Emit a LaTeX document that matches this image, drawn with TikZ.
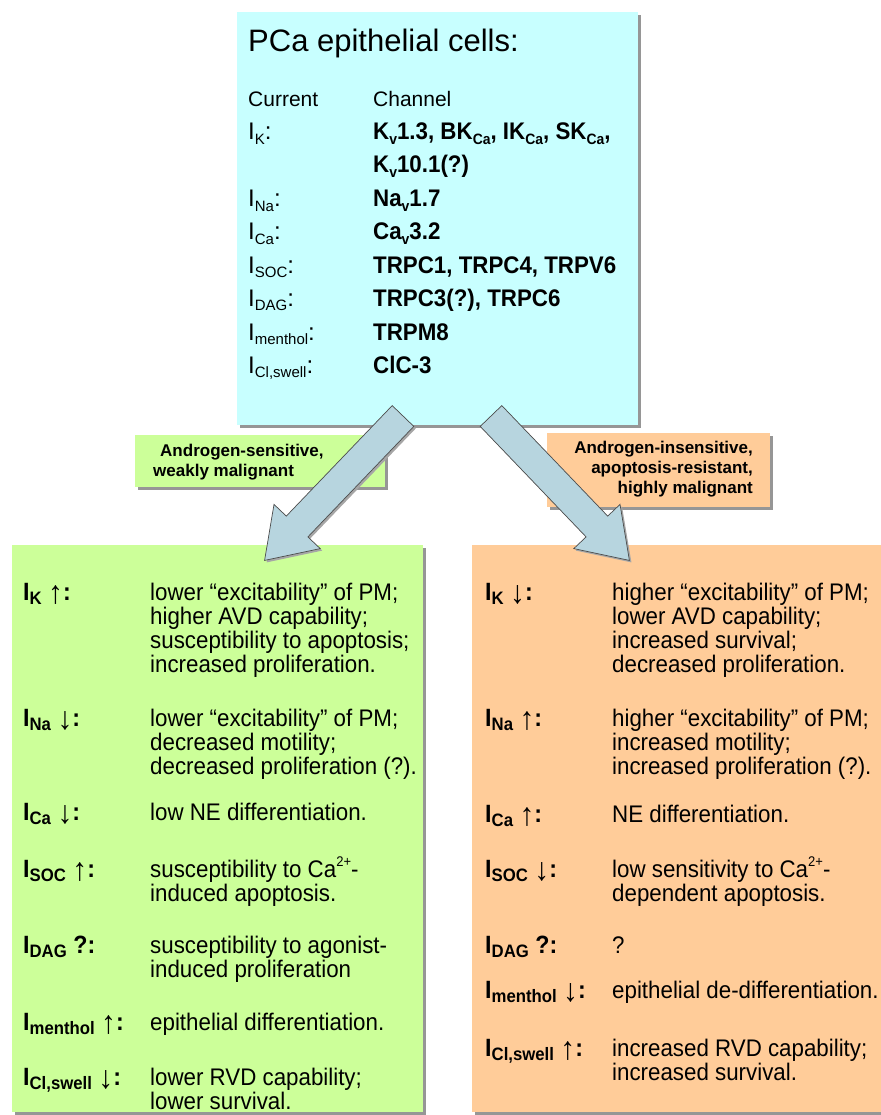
\documentclass[tikz,border=0pt]{standalone}
\usepackage{fontspec}
\setmainfont{Liberation Sans}
\newfontfamily\narrowfont[FakeStretch=0.93]{Liberation Sans}
\usetikzlibrary{shadows}
\definecolor{cyanfill}{RGB}{200,255,255}
\definecolor{greenfill}{RGB}{204,255,153}
\definecolor{orangefill}{RGB}{255,204,153}
\definecolor{arrowfill}{RGB}{183,213,223}
\definecolor{shadowgray}{RGB}{150,150,150}
\newcommand{\bodyfont}{\narrowfont\fontsize{24}{23}\selectfont}
\newcommand{\labfont}{\narrowfont\bfseries\fontsize{25}{25}\selectfont}
\newcommand{\chfont}{\narrowfont\bfseries\fontsize{24}{24}\selectfont}
\newcommand{\curfont}{\fontsize{24}{24}\selectfont}
\newcommand{\sbs}[1]{\raisebox{-0.18em}{\fontsize{15}{15}\selectfont #1}}
\newcommand{\lsb}[1]{\raisebox{-4pt}{\fontsize{18}{18}\selectfont #1}}
\newcommand{\arr}[1]{\raisebox{-3pt}{\fontsize{32}{32}\selectfont #1}}
\newcommand{\sps}[1]{\raisebox{0.45em}{\fontsize{14}{14}\selectfont #1}}
\newcommand{\Lines}[1]{\begin{tabular}[t]{@{}l@{}}#1\end{tabular}}
\tikzset{
  panel/.style={inner sep=0pt, anchor=north west,
    general shadow={fill=shadowgray, shadow xshift=3pt, shadow yshift=-3pt}},
  txt/.style={inner sep=0pt, anchor=base west},
  body/.style={txt, font=\bodyfont},
  lab/.style={txt, font=\labfont},
  chan/.style={txt, font=\chfont},
  curr/.style={txt, font=\curfont},
  tag/.style={inner sep=0pt, font=\bfseries\fontsize{17}{17}\selectfont},
  blockarrow/.style={fill=arrowfill, draw=black!70, line width=0.7pt, line join=miter,
    general shadow={fill=black!35, shadow xshift=2pt, shadow yshift=-2pt}}
}
\begin{document}
\begin{tikzpicture}[x=1pt, y=-1pt]
\path[use as bounding box, fill=white] (0,0) rectangle (880,1115);
% panels
\node[panel, fill=cyanfill, minimum width=401pt, minimum height=413pt] (top) at (237,12) {};
\node[panel, fill=greenfill, minimum width=411pt, minimum height=567pt] (left) at (12,545) {};
\node[panel, fill=orangefill, minimum width=410pt, minimum height=567pt] (right) at (472,545) {};
\node[panel, fill=greenfill, minimum width=250pt, minimum height=52pt] (gtag) at (135,435) {};
\node[panel, fill=orangefill, minimum width=223pt, minimum height=74pt] (otag) at (547,433) {};
% tag texts
\node[tag, anchor=base west] (g1) at (160,456) {Androgen-sensitive,};
\node[tag, anchor=base west] (g2) at (153,476) {weakly malignant};
\node[tag, anchor=base east] (o1) at (753,453) {Androgen-insensitive,};
\node[tag, anchor=base east] (o2) at (753,473) {apoptosis-resistant,};
\node[tag, anchor=base east] (o3) at (753,493) {highly malignant};
% block arrows
\draw[blockarrow] (413.8,426.4) -- (307.9,536.9) -- (320.2,548.6) -- (264.6,560.4)
  -- (274.0,504.4) -- (286.3,516.1) -- (392.2,405.6) -- cycle;
\draw[blockarrow] (480.2,426.4) -- (586.1,536.9) -- (573.8,548.6) -- (629.4,560.4)
  -- (620.0,504.4) -- (607.7,516.1) -- (501.8,405.6) -- cycle;
% top panel text
\node[txt, font=\fontsize{31}{31}\selectfont] (title) at (248,52) {PCa epithelial cells:};
\node[txt, font=\fontsize{21}{21}\selectfont] (hcur) at (248,107) {Current};
\node[txt, font=\fontsize{21}{21}\selectfont] (hch) at (373,107) {Channel};
\node[curr] (c1) at (248,140) {I\sbs{K}:};
\node[chan] (h1) at (373,140) {K\sbs{v}1.3, BK\sbs{Ca}, IK\sbs{Ca}, SK\sbs{Ca},};
\node[chan] (h1b) at (373,173) {K\sbs{v}10.1(?)};
\node[curr] (c2) at (248,207) {I\sbs{Na}:};
\node[chan] (h2) at (373,207) {Na\sbs{v}1.7};
\node[curr] (c3) at (248,240) {I\sbs{Ca}:};
\node[chan] (h3) at (373,240) {Ca\sbs{v}3.2};
\node[curr] (c4) at (248,273) {I\sbs{SOC}:};
\node[chan] (h4) at (373,273) {TRPC1, TRPC4, TRPV6};
\node[curr] (c5) at (248,306) {I\sbs{DAG}:};
\node[chan] (h5) at (373,306) {TRPC3(?), TRPC6};
\node[curr] (c6) at (248,340) {I\sbs{menthol}:};
\node[chan] (h6) at (373,340) {TRPM8};
\node[curr] (c7) at (248,373) {I\sbs{Cl,swell}:};
\node[chan] (h7) at (373,373) {ClC-3};
% left panel
\node[lab] (l1) at (23,600) {I\lsb{K} \arr{↑}:};
\node[body] (lt1) at (150,600) {\Lines{lower “excitability” of PM;\\ higher AVD capability;\\ susceptibility to apoptosis;\\ increased proliferation.}};
\node[lab] (l2) at (23,726) {I\lsb{Na} \arr{↓}:};
\node[body] (lt2) at (150,726) {\Lines{lower “excitability” of PM;\\ decreased motility;\\ decreased proliferation (?).}};
\node[lab] (l3) at (23,820) {I\lsb{Ca} \arr{↓}:};
\node[body] (lt3) at (150,820) {low NE differentiation.};
\node[lab] (l4) at (23,877) {I\lsb{SOC} \arr{↑}:};
\node[body] (lt4) at (150,877) {\Lines{susceptibility to Ca\sps{2+}-\\ induced apoptosis.}};
\node[lab] (l5) at (23,953) {I\lsb{DAG} ?:};
\node[body] (lt5) at (150,953) {\Lines{susceptibility to agonist-\\ induced proliferation}};
\node[lab] (l6) at (23,1030) {I\lsb{menthol} \arr{↑}:};
\node[body] (lt6) at (150,1030) {epithelial differentiation.};
\node[lab] (l7) at (23,1085) {I\lsb{Cl,swell} \arr{↓}:};
\node[body] (lt7) at (150,1085) {\Lines{lower RVD capability;\\ lower survival.}};
% right panel
\node[lab] (r1) at (485,600) {I\lsb{K} \arr{↓}:};
\node[body] (rt1) at (612,600) {\Lines{higher “excitability” of PM;\\ lower AVD capability;\\ increased survival;\\ decreased proliferation.}};
\node[lab] (r2) at (485,726) {I\lsb{Na} \arr{↑}:};
\node[body] (rt2) at (612,726) {\Lines{higher “excitability” of PM;\\ increased motility;\\ increased proliferation (?).}};
\node[lab] (r3) at (485,822) {I\lsb{Ca} \arr{↑}:};
\node[body] (rt3) at (612,822) {NE differentiation.};
\node[lab] (r4) at (485,877) {I\lsb{SOC} \arr{↓}:};
\node[body] (rt4) at (612,877) {\Lines{low sensitivity to Ca\sps{2+}-\\ dependent apoptosis.}};
\node[lab] (r5) at (485,953) {I\lsb{DAG} ?:};
\node[body] (rt5) at (612,953) {?};
\node[lab] (r6) at (485,998) {I\lsb{menthol} \arr{↓}:};
\node[body] (rt6) at (612,998) {epithelial de-differentiation.};
\node[lab] (r7) at (485,1056) {I\lsb{Cl,swell} \arr{↑}:};
\node[body] (rt7) at (612,1056) {\Lines{increased RVD capability;\\ increased survival.}};
\end{tikzpicture}
\end{document}
